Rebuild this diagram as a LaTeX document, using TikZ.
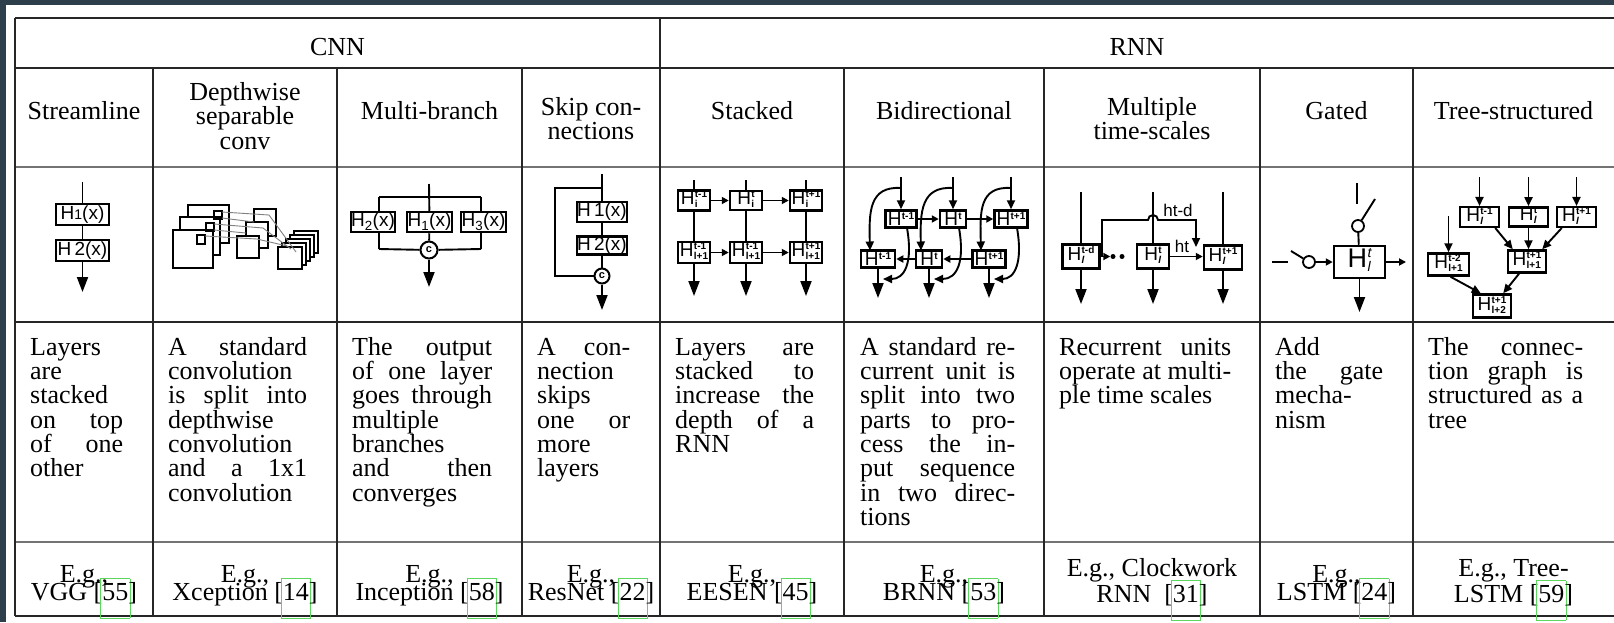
\documentclass[tikz,border=0pt]{standalone}
\usepackage{fontspec}
\setmainfont{Liberation Serif}
\newfontfamily\hfont{Liberation Sans}
\usetikzlibrary{arrows.meta}
\definecolor{framecol}{HTML}{2E3F4C}
\definecolor{linkgreen}{HTML}{5CD65C}
\newlength\dw
\newcommand\J[1]{\makebox[\dw][s]{#1}}
\newcommand\gbox[1]{\setbox0\hbox{#1}\makebox[0pt][l]{\kern-2pt\textcolor{linkgreen}{\setlength\fboxsep{0pt}\setlength\fboxrule{0.8pt}\fbox{\rule[-18pt]{0pt}{39pt}\kern\dimexpr\wd0+2.4pt\relax}}}#1}
\newcommand\HH[2]{H\kern0.3pt\raisebox{-3pt}{\fontsize{10}{9}\selectfont\bfseries\begin{tabular}[b]{@{}l@{}}#1\\#2\end{tabular}}}
\newcommand\HS[1]{H\kern0.3pt\raisebox{6.5pt}{\fontsize{10}{10}\selectfont\bfseries #1}}
\newcommand\HG[2]{H\kern0.5pt\raisebox{-4pt}{\fontsize{14}{13}\selectfont\itshape\begin{tabular}[b]{@{}l@{}}#1\\#2\end{tabular}}}
\begin{document}
\begin{tikzpicture}[x=1pt,y=-1pt,
  tl/.style={line width=1.1pt, black!85},
  tlg/.style={line width=1.4pt, black!55},
  hd/.style={font=\fontsize{26}{24.5}\selectfont, inner sep=0pt, align=center},
  desc/.style={font=\fontsize{26}{24.3}\selectfont, inner sep=0pt, align=left, anchor=north west},
  eg/.style={font=\fontsize{26}{24.3}\selectfont, inner sep=0pt, anchor=base},
  hb/.style={draw, line width=2.5pt, inner sep=0pt, fill=white, font={\hfont\fontsize{19}{19}\selectfont}},
  ln/.style={line width=1.9pt},
  ar/.style={line width=1.9pt, -{Triangle[length=15pt,width=11pt]}},
  mar/.style={line width=1.9pt, -{Triangle[length=9pt,width=8pt]}},
  sar/.style={line width=1.9pt, -{Triangle[length=7pt,width=7pt]}},
  cr/.style={circle, draw, line width=2pt, fill=white, inner sep=0pt, minimum size=17pt, font={\hfont\fontsize{11}{11}\selectfont\bfseries}},
  dot/.style={circle, fill, inner sep=0pt, minimum size=5pt},
  lbl/.style={inner sep=0pt, font={\hfont\fontsize{17}{17}\selectfont}}
]
\useasboundingbox (0,0) rectangle (1614,622);
\fill[white] (0,0) rectangle (1614,622);
\fill[framecol] (0,0) rectangle (1614,5);
\fill[framecol] (0,0) rectangle (6,622);

% ---------- table rules ----------
\draw[tl] (15,18) -- (1614,18);
\draw[tl] (15,68) -- (1614,68);
\draw[tlg] (15,167) -- (1614,167);
\draw[tl] (15,322) -- (1614,322);
\draw[tlg] (15,542) -- (1614,542);
\draw[tl] (15,616) -- (1614,616);
\draw[tl] (15,18) -- (15,616);
\draw[tl] (660,18) -- (660,616);
\foreach \x in {153,337,522,844,1044,1260,1413} \draw[tl] (\x,68) -- (\x,616);

% ---------- header ----------
\node[hd, anchor=base] (cnn) at (337.5,55) {CNN};
\node[hd, anchor=base] (rnn) at (1137,55) {RNN};
\node[hd, anchor=base] (h1) at (84,119) {Streamline};
\node[hd, anchor=north] (h2) at (245,80) {\rule{0pt}{20pt}Depthwise\\separable\\conv};
\node[hd, anchor=base] (h3) at (429.5,119) {Multi-branch};
\node[hd, anchor=north] (h4) at (591,95) {\rule{0pt}{20pt}Skip con-\\nections};
\node[hd, anchor=base] (h5) at (752,119) {Stacked};
\node[hd, anchor=base] (h6) at (944,119) {Bidirectional};
\node[hd, anchor=north] (h7) at (1152,95) {\rule{0pt}{20pt}Multiple\\time-scales};
\node[hd, anchor=base] (h8) at (1336.5,119) {Gated};
\node[hd, anchor=base] (h9) at (1513.5,119) {Tree-structured};

% ---------- descriptions ----------
\node[desc, execute at begin node={\global\dw=93pt}] (d1) at (30,335)
  {\rule{0pt}{20pt}Layers\\are\\stacked\\\J{on top}\\\J{of one}\\other};
\node[desc, execute at begin node={\global\dw=139pt}] (d2) at (168,335)
  {\rule{0pt}{20pt}\J{A standard}\\convolution\\\J{is split into}\\depthwise\\convolution\\\J{and a 1x1}\\convolution};
\node[desc, execute at begin node={\global\dw=140pt}] (d3) at (352,335)
  {\rule{0pt}{20pt}\J{The output}\\\J{of one layer}\\\J{goes through}\\multiple\\branches\\\J{and then}\\converges};
\node[desc, execute at begin node={\global\dw=93pt}] (d4) at (537,335)
  {\rule{0pt}{20pt}\J{A con-}\\nection\\skips\\\J{one or}\\more\\layers};
\node[desc, execute at begin node={\global\dw=139pt}] (d5) at (675,335)
  {\rule{0pt}{20pt}\J{Layers are}\\\J{stacked to}\\\J{increase the}\\\J{depth of a}\\RNN};
\node[desc, execute at begin node={\global\dw=155pt}] (d6) at (860,335)
  {\rule{0pt}{20pt}\J{A standard re-}\\\J{current unit is}\\\J{split into two}\\\J{parts to pro-}\\\J{cess the in-}\\\J{put sequence}\\\J{in two direc-}\\tions};
\node[desc, execute at begin node={\global\dw=172pt}] (d7) at (1059,335)
  {\rule{0pt}{20pt}\J{Recurrent units}\\\J{operate at multi-}\\ple time scales};
\node[desc, execute at begin node={\global\dw=108pt}] (d8) at (1275,335)
  {\rule{0pt}{20pt}Add\\\J{the gate}\\mecha-\\nism};
\node[desc, execute at begin node={\global\dw=155pt}] (d9) at (1428,335)
  {\rule{0pt}{20pt}\J{The connec-}\\\J{tion graph is}\\\J{structured as a}\\tree};

% ---------- examples ----------
\node[eg] (e1a) at (84,582) {E.g.,};
\node[eg] (e1b) at (84,600) {VGG [\gbox{55}]};
\node[eg] (e2a) at (245,582) {E.g.,};
\node[eg] (e2b) at (245,600) {Xception [\gbox{14}]};
\node[eg] (e3a) at (429.5,582) {E.g.,};
\node[eg] (e3b) at (429.5,600) {Inception [\gbox{58}]};
\node[eg] (e4a) at (591,582) {E.g.,};
\node[eg] (e4b) at (591,600) {ResNet [\gbox{22}]};
\node[eg] (e5a) at (752,582) {E.g.,};
\node[eg] (e5b) at (752,600) {EESEN [\gbox{45}]};
\node[eg] (e6a) at (944,582) {E.g.,};
\node[eg] (e6b) at (944,600) {BRNN [\gbox{53}]};
\node[eg] (e7a) at (1152,576) {E.g., Clockwork};
\node[eg] (e7b) at (1152,602) {RNN\ \ [\gbox{31}]};
\node[eg] (e8a) at (1336.5,582) {E.g.,};
\node[eg] (e8b) at (1336.5,600) {LSTM [\gbox{24}]};
\node[eg] (e9a) at (1513.5,576) {E.g., Tree-};
\node[eg] (e9b) at (1513.5,602) {LSTM [\gbox{59}]};

% ---------- icon 1: streamline ----------
\coordinate (i1t) at (82.5,182);
\coordinate (i1e) at (82.5,292);
\node[hb, minimum width=53, minimum height=21] (i1a) at (82.5,214.5) {H{\fontsize{14}{14}\selectfont 1}(x)};
\node[hb, minimum width=53, minimum height=21] (i1b) at (82.5,250.5) {H\,2(x)};
\draw[ln] (i1t) -- (i1a);
\draw[ln] (i1a) -- (i1b);
\draw[ar] (i1b) -- (i1e);

% ---------- icon 2: depthwise separable (scene) ----------
\begin{scope}[line width=1.3pt]
\filldraw[fill=white] (188,205) rectangle (229,243);
\filldraw[fill=white] (180,217) rectangle (220,255);
\filldraw[fill=white] (173,230) rectangle (213,268);
\draw (214,211) rectangle (222,219);
\draw (206,223) rectangle (214,231);
\draw (197,235) rectangle (205,244);
\filldraw[fill=white] (254,209) rectangle (276,236);
\filldraw[fill=white] (246,222) rectangle (268,248);
\filldraw[fill=white] (237,236) rectangle (259,258);
\foreach \k in {4,3,2,1,0}
  \filldraw[fill=white] ({278+4*\k},{247-4*\k}) rectangle ({302+4*\k},{269-4*\k});
\end{scope}
\begin{scope}[line width=0.9pt, black!50]
\draw (222,212) -- (269,215);
\draw (214,224) -- (263,228);
\draw (205,236) -- (257,239);
\draw (222,218) -- (254,222);
\draw (214,230) -- (246,233);
\draw (269,215) -- (296,252);
\draw (263,228) -- (291,249);
\draw (257,239) -- (287,246);
\end{scope}

% ---------- icon 3: multi-branch ----------
\coordinate (i3t) at (429,184);
\coordinate (i3l) at (379,197);
\coordinate (i3r) at (481,197);
\coordinate (i3bl) at (379,249);
\coordinate (i3br) at (481,249);
\coordinate (i3e) at (429,287);
\node[hb, minimum width=42, minimum height=20] (i3b2) at (373,222) {H\textsubscript{2}(x)};
\node[hb, minimum width=45, minimum height=20] (i3b1) at (429.5,222) {H\textsubscript{1}(x)};
\node[hb, minimum width=45, minimum height=20] (i3b3) at (483.5,222) {H\textsubscript{3}(x)};
\node[cr] (i3c) at (429,250) {c};
\draw[ln] (i3t) -- (i3b1);
\draw[ln] (i3l) -- (i3r);
\draw[ln] (i3l) -- (i3l |- i3b2.north);
\draw[ln] (i3l |- i3b2.south) -- (i3bl);
\draw[ln] (i3r) -- (i3r |- i3b3.north);
\draw[ln] (i3r |- i3b3.south) -- (i3br);
\draw[ln] (i3bl) -- (i3c);
\draw[ln] (i3br) -- (i3c);
\draw[ln] (i3b1) -- (i3c);
\draw[ar] (i3c) -- (i3e);

% ---------- icon 4: skip connection ----------
\coordinate (i4t) at (602,174);
\coordinate (i4s) at (602,188);
\coordinate (i4l) at (555,188);
\coordinate (i4ll) at (555,276);
\coordinate (i4e) at (602,310);
\node[hb, minimum width=49, minimum height=20] (i4a) at (602,212) {H\,1(x)};
\node[hb, minimum width=49, minimum height=18] (i4b) at (602,245.5) {H\,2(x)};
\node[cr, minimum size=15pt] (i4c) at (602,276) {c};
\draw[ln] (i4t) -- (i4a);
\draw[ln] (i4s) -- (i4l) -- (i4ll) -- (i4c);
\draw[ln] (i4a) -- (i4b);
\draw[ln] (i4b) -- (i4c);
\draw[ar] (i4c) -- (i4e);

% ---------- icon 5: stacked ----------
\foreach \n/\x/\ta/\tb/\ba/\bb in {1/694/t-1/i/t-1/l+1, 2/746/t/i/t-1/l+1, 3/806/t+1/i/t+1/l+1}{
  \coordinate (i5t\n) at (\x,180);
  \coordinate (i5e\n) at (\x,296);
  \node[hb, minimum width=32, minimum height=18] (i5a\n) at (\x,200.5) {\HH{\ta}{\tb}};
  \node[hb, minimum width=32, minimum height=21] (i5b\n) at (\x,252.5) {\HH{\ba}{\bb}};
  \draw[ln] (i5t\n) -- (i5a\n);
  \draw[ln] (i5a\n) -- (i5b\n);
  \draw[ar] (i5b\n) -- (i5e\n);
}
\draw[sar] (i5a1) -- (i5a2);
\draw[sar] (i5a2) -- (i5a3);
\draw[sar] (i5b1) -- (i5b2);
\draw[sar] (i5b2) -- (i5b3);

% ---------- icon 6: bidirectional ----------
\node[hb, minimum width=31, minimum height=17] (f1) at (901,219) {\HS{t-1}};
\node[hb, minimum width=26, minimum height=17] (f2) at (953,219) {\HS{t}};
\node[hb, minimum width=33, minimum height=17] (f3) at (1011,219) {\HS{t+1}};
\node[hb, minimum width=34, minimum height=17] (g1) at (878,259) {\HS{t-1}};
\node[hb, minimum width=26, minimum height=17] (g2) at (929,259) {\HS{t}};
\node[hb, minimum width=33, minimum height=17] (g3) at (989,259) {\HS{t+1}};
\foreach \n/\tx/\bx in {1/901/878, 2/953/929, 3/1011/989}{
  \coordinate (fi\n) at (\tx,177);
  \coordinate (fc\n) at (\tx,188);
  \coordinate (ge\n) at (\bx,298);
  \coordinate (gm\n) at ({\bx+5},279);
  \draw[ln] (fi\n) -- (fc\n);
  \draw[mar] (fc\n) -- (f\n);
  \draw[ar] (g\n) -- (ge\n);
  \draw[mar] (fc\n) .. controls ({\tx-32},186) and ({\bx-9},212) .. ({\bx-8},250.5);
  \draw[mar] ({\tx+6},228) .. controls ({\tx+12},262) and ({\tx+4},279) .. (gm\n);
}
\draw[sar] (f1) -- (f2);
\draw[sar] (f2) -- (f3);
\draw[sar] (g3) -- (g2);
\draw[sar] (g2) -- (g1);

% ---------- icon 7: multiple time-scales ----------
\node[hb, minimum width=37, minimum height=24] (m1) at (1081,256.5) {\HH{t-d}{\textit{l}}};
\node[hb, minimum width=32, minimum height=24] (m2) at (1153,256.5) {\HH{t}{\textit{l}}};
\node[hb, minimum width=38, minimum height=24] (m3) at (1223,257.5) {\HH{t+1}{\textit{l}}};
\foreach \n/\x in {1/1081, 2/1153, 3/1223}{
  \coordinate (mt\n) at (\x,192);
  \coordinate (me\n) at (\x,304);
  \draw[ln] (mt\n) -- (m\n);
  \draw[ar] (m\n) -- (me\n);
}
\node[dot] (md1) at (1113,256.5) {};
\node[dot] (md2) at (1122,256.5) {};
\draw[sar] (m1) -- (md1);
\coordinate (k1) at (1102,256.5);
\coordinate (k2) at (1102,220);
\coordinate (k3) at (1148,220);
\coordinate (k5) at (1196,220);
\coordinate (k6) at (1196,247);
\draw[mar] (k1) -- (k2) -- (k3) arc[start angle=180, end angle=360, radius=5] -- (k5) -- (k6);
\draw[sar] (m2.east) -- (m2.east -| m3.west);
\node[lbl] (lhtd) at (1178,210) {ht-d};
\node[lbl] (lht) at (1182,246) {ht};

% ---------- icon 8: gated ----------
\node[hb, minimum width=51, minimum height=32, font={\hfont\fontsize{27}{27}\selectfont}] (gt) at (1359.5,262) {\HG{t}{l}};
\coordinate (gs1) at (1357,183);
\coordinate (gs2) at (1357,204);
\coordinate (gs3) at (1375,199);
\node[circle, draw, line width=1.8pt, minimum size=12pt, inner sep=0pt] (gc1) at (1358,226) {};
\coordinate (gs4) at (1272,262);
\coordinate (gs5) at (1288,262);
\coordinate (gs6) at (1291,251);
\node[circle, draw, line width=1.8pt, minimum size=12pt, inner sep=0pt] (gc2) at (1309,262) {};
\coordinate (gs7) at (1406,262);
\coordinate (gs8) at (1359.5,312);
\draw[ln] (gs1) -- (gs2);
\draw[ln] (gs3) -- (gc1);
\draw[ln] (gc1) -- (gt);
\draw[ln] (gs4) -- (gs5);
\draw[ln] (gs6) -- (gc2);
\draw[sar] (gc2) -- (gt);
\draw[sar] (gt) -- (gs7);
\draw[ar] (gt) -- (gs8);

% ---------- icon 9: tree-structured ----------
\node[hb, minimum width=39, minimum height=19] (t1) at (1479.5,217) {\HH{t-1}{\textit{l}}};
\node[hb, minimum width=39, minimum height=19] (t2) at (1528.5,217) {\HH{t}{\textit{l}}};
\node[hb, minimum width=39, minimum height=19] (t3) at (1576.5,217) {\HH{t+1}{\textit{l}}};
\node[hb, minimum width=41, minimum height=22] (tl) at (1448.5,264.5) {\HH{t-2}{l+1}};
\node[hb, minimum width=38, minimum height=22] (tr) at (1527,261.5) {\HH{t+1}{l+1}};
\node[hb, minimum width=38, minimum height=23] (tb) at (1492,306) {\HH{t+1}{l+2}};
\foreach \n/\x in {1/1479.5, 2/1528.5, 3/1576.5}{
  \coordinate (ti\n) at (\x,177);
  \draw[mar] (ti\n) -- (t\n);
}
\coordinate (til) at (1448.5,216);
\draw[mar] (til) -- (tl);
\draw[mar] ([xshift=-5pt]t1.south east) -- ([xshift=6pt]tr.north west);
\draw[mar] (t2.south) -- (t2.south |- tr.north);
\draw[mar] ([xshift=6pt]t3.south west) -- ([xshift=-5pt]tr.north east);
\draw[mar] ([xshift=2pt]tl.south) -- ([xshift=9pt]tb.north west);
\draw[mar] ([xshift=-8pt]tr.south) -- ([xshift=-9pt]tb.north east);
\end{tikzpicture}
\end{document}
